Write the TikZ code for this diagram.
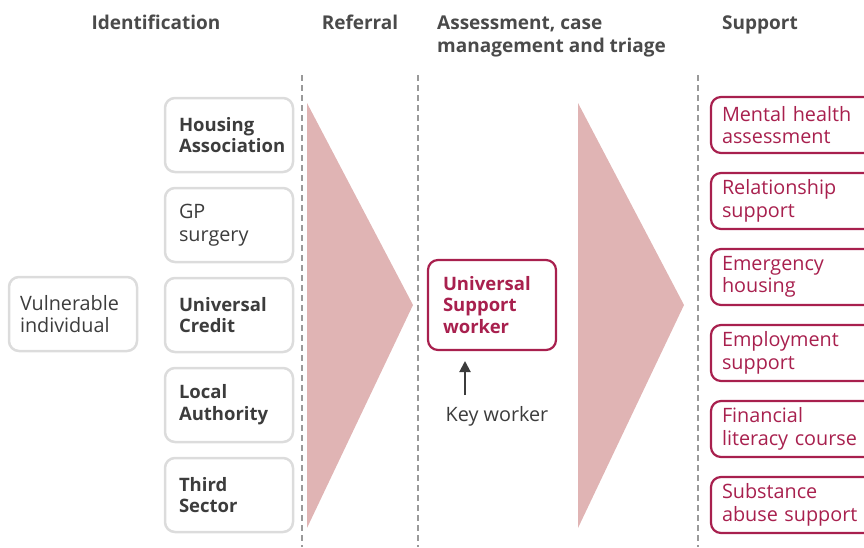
\documentclass[tikz,border=0pt]{standalone}
\usepackage{fontspec}
\setmainfont{Open Sans}
\usetikzlibrary{arrows.meta}
\definecolor{txt}{HTML}{3C3C3C}
\definecolor{headtxt}{HTML}{4A4A4A}
\definecolor{boxgray}{HTML}{DCDCDC}
\definecolor{crim}{HTML}{A8204E}
\definecolor{trifill}{HTML}{E0B4B4}
\definecolor{dashgray}{HTML}{9A9A9A}
\newcommand{\regsize}{\fontsize{19.8}{22.5}\selectfont}
\newcommand{\boldsize}{\fontsize{18.5}{21.8}\selectfont\bfseries}
\begin{document}
\begin{tikzpicture}[x=1pt,y=-1pt,
  graybox/.style={draw=boxgray, line width=2.5pt, rounded corners=10pt,
    minimum width=128pt, minimum height=74pt, text width=100pt, align=left,
    inner xsep=14pt, inner ysep=0pt, text=txt, font=\regsize},
  idbold/.style={graybox, font=\boldsize},
  crimbox/.style={draw=crim, line width=2.2pt, rounded corners=10pt,
    minimum width=128pt, minimum height=90pt, text width=98pt, align=left,
    inner xsep=15pt, inner ysep=0pt, text=crim, font=\boldsize},
  supbox/.style={draw=crim, line width=2.2pt, rounded corners=10pt,
    minimum width=170pt, minimum height=56pt, text width=148pt, align=left,
    inner xsep=11pt, inner ysep=0pt, text=crim, font=\regsize},
  header/.style={text=headtxt, font=\fontsize{19}{23}\selectfont\bfseries, inner sep=0pt, align=left},
  divider/.style={draw=dashgray, line width=1.8pt, dash pattern=on 6pt off 4pt},
  tri/.style={fill=trifill, draw=none}
]
\clip (0,0) rectangle (864,547);
\useasboundingbox (0,0) rectangle (864,547);

% headers
\node[header, anchor=base] (h1) at (156,29) {Identification};
\node[header, anchor=base] (h2) at (360,29) {Referral};
\node[header, anchor=west] (h3) at (437,36) {Assessment, case\\management and triage};
\node[header, anchor=base west] (h4) at (722,29) {Support};

% dividers
\coordinate (d1t) at (302,75); \coordinate (d1b) at (302,547);
\coordinate (d2t) at (418,75); \coordinate (d2b) at (418,547);
\coordinate (d3t) at (698,75); \coordinate (d3b) at (698,547);
\draw[divider] (d1t) -- (d1b);
\draw[divider] (d2t) -- (d2b);
\draw[divider] (d3t) -- (d3b);

% triangles
\fill[tri] (307,103) -- (413,305) -- (307,528) -- cycle;
\fill[tri] (578,103) -- (684,305) -- (578,528) -- cycle;

% left
\node[graybox, inner xsep=11pt, text width=106pt] (vi) at (73,314) {Vulnerable\\individual};

% identification
\node[idbold] (ha) at (229,135) {Housing\\Association};
\node[graybox] (gp) at (229,225) {GP\\surgery};
\node[idbold] (uc) at (229,315) {Universal\\Credit};
\node[idbold] (la) at (229,405) {Local\\Authority};
\node[idbold] (ts) at (229,495) {Third\\Sector};

% assessment
\node[crimbox] (usw) at (492,305) {Universal\\Support\\worker};
\node[text=txt, font=\regsize, inner sep=0pt] (kw) at (497,416) {Key worker};
\coordinate (a1) at (465,395);
\coordinate (a2) at (465,361);
\draw[draw=txt, line width=2pt, -{Triangle[length=11pt,width=11pt]}] (a1) -- (a2);

% support
\node[supbox] (s1) at (796,125) {Mental health\\assessment};
\node[supbox] (s2) at (796,201) {Relationship\\support};
\node[supbox] (s3) at (796,277) {Emergency\\housing};
\node[supbox] (s4) at (796,353) {Employment\\support};
\node[supbox] (s5) at (796,429) {Financial\\literacy course};
\node[supbox] (s6) at (796,505) {Substance\\abuse support};
\end{tikzpicture}
\end{document}
